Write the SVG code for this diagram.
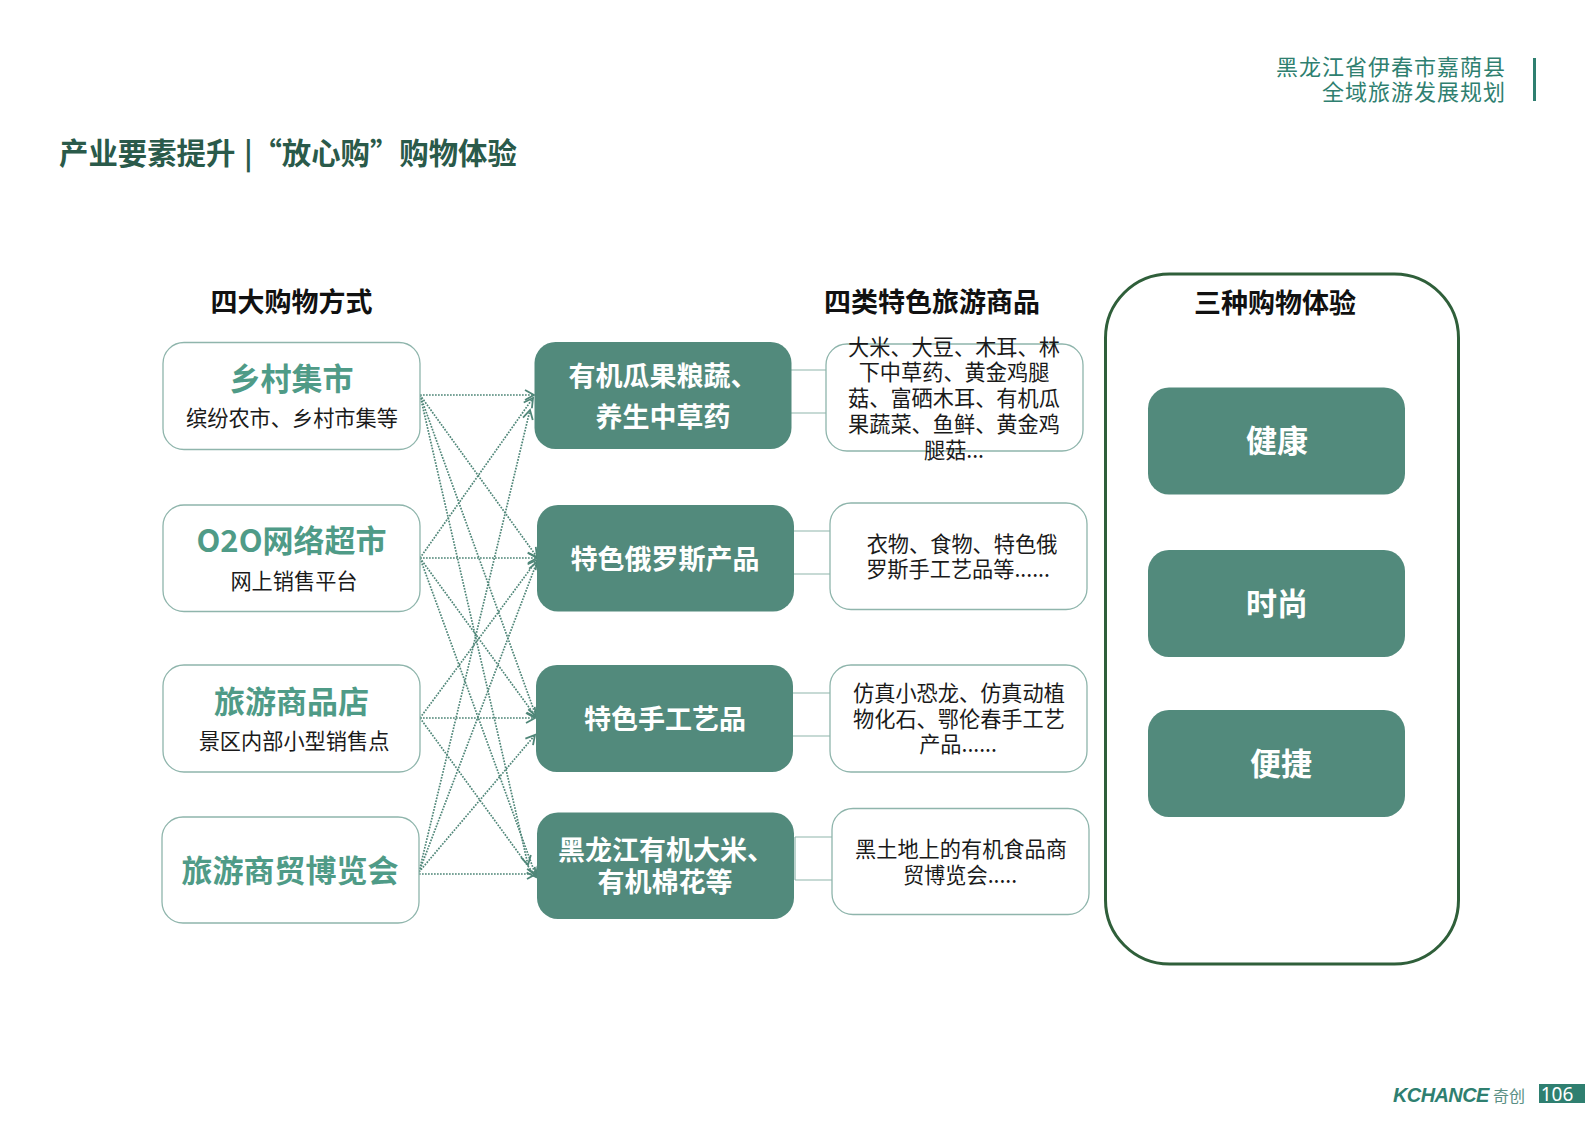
<svg xmlns="http://www.w3.org/2000/svg" width="1587" height="1122" viewBox="0 0 1587 1122">
<style>
text{font-family:"Noto Sans CJK SC","Noto Sans",sans-serif;text-anchor:middle}
.w{fill:#fff;stroke:#8fb5ac;stroke-width:1.3}
.g{fill:#528a7c}
.h{font-size:27px;font-weight:700;fill:#111}
.t{font-weight:700;fill:#4f9b87}
.s{font-size:21.2px;fill:#1a1a1a}
.m{font-size:27px;font-weight:700;fill:#fff}
.e{font-size:31px;font-weight:700;fill:#fff}
.c line{stroke:#4f8678;stroke-width:1.7;stroke-dasharray:1.7 1.3;marker-end:url(#a)}
.b path{fill:none;stroke:#8fb5ac;stroke-width:1.2}
</style>
<defs><marker id="a" markerUnits="userSpaceOnUse" markerWidth="14" markerHeight="14" refX="10" refY="6" orient="auto"><path d="M1 1 L10 6 L1 11" fill="none" stroke="#4f8678" stroke-width="1.8"/></marker></defs>
<rect width="1587" height="1122" fill="#fff"/>
<g id="header">
<text x="1506" y="75" style="font-size:22px;fill:#2f7f70;text-anchor:end;letter-spacing:1px">黑龙江省伊春市嘉荫县</text>
<text x="1506" y="100" style="font-size:22px;fill:#2f7f70;text-anchor:end;letter-spacing:1px">全域旅游发展规划</text>
<rect x="1533" y="58" width="3" height="43" fill="#2f7f70"/>
<text x="59" y="164" style="font-size:29.4px;font-weight:700;fill:#2a5a4a;text-anchor:start">产业要素提升 <tspan dx="2">|</tspan> <tspan dx="-7">“放心购”购物体验</tspan></text>
</g>
<g id="col-heads">
<text class="h" x="291.500" y="312">四大购物方式</text>
<text class="h" x="932" y="312">四类特色旅游商品</text>
</g>
<g id="experience-panel">
<rect x="1105.500" y="274" width="353" height="690" rx="64" fill="#fff" stroke="#2f5f3a" stroke-width="3"/>
<text class="h" x="1275" y="313">三种购物体验</text>
</g>
<g class="c" id="connectors">
<line x1="420" y1="395" x2="534" y2="395"/><line x1="420" y1="395" x2="537" y2="557"/><line x1="420" y1="395" x2="536" y2="716"/><line x1="420" y1="395" x2="528" y2="865"/>
<line x1="420" y1="558" x2="533" y2="398"/><line x1="420" y1="558" x2="537" y2="558"/><line x1="420" y1="558" x2="536" y2="717"/><line x1="420" y1="558" x2="536" y2="876"/>
<line x1="420" y1="718" x2="537" y2="560"/><line x1="420" y1="718" x2="535" y2="718"/><line x1="420" y1="718" x2="536" y2="877"/>
<line x1="419" y1="872" x2="530" y2="410"/><line x1="419" y1="872" x2="537" y2="562"/><line x1="419" y1="872" x2="535" y2="735"/><line x1="419" y1="874" x2="536" y2="874"/>
</g>
<g class="b" id="brackets">
<path d="M791 370H826M791 413H826"/><path d="M794 531H830M794 574H830"/><path d="M793 693H830M793 736H830"/><path d="M795 837H832M795 880H832M795 837V880"/>
</g>
<g id="s1"><rect class="w" x="163" y="342.500" width="257" height="107" rx="21"/><text class="t" x="291.500" y="390" font-size="31">乡村集市</text><text class="s" x="292" y="426">缤纷农市、乡村市集等</text></g>
<g id="s2"><rect class="w" x="163" y="505" width="257" height="106.500" rx="21"/><text class="t" x="291.500" y="552" font-size="31">O2O网络超市</text><text class="s" x="294" y="589">网上销售平台</text></g>
<g id="s3"><rect class="w" x="163" y="665" width="257" height="107" rx="21"/><text class="t" x="291.500" y="713" font-size="31">旅游商品店</text><text class="s" x="294" y="749">景区内部小型销售点</text></g>
<g id="s4"><rect class="w" x="162" y="817" width="257" height="106" rx="21"/><text class="t" x="290" y="882" font-size="31">旅游商贸博览会</text></g>
<g id="m1"><rect class="g" x="534.500" y="342" width="257" height="107" rx="21"/><text class="m" x="663" y="386">有机瓜果粮蔬、</text><text class="m" x="663" y="427">养生中草药</text></g>
<g id="m2"><rect class="g" x="537" y="505" width="257" height="106.500" rx="21"/><text class="m" x="665" y="569">特色俄罗斯产品</text></g>
<g id="m3"><rect class="g" x="536" y="665" width="257" height="107" rx="21"/><text class="m" x="665" y="729">特色手工艺品</text></g>
<g id="m4"><rect class="g" x="537" y="812.500" width="257" height="106.500" rx="21"/><text class="m" x="666" y="860">黑龙江有机大米、</text><text class="m" x="665" y="892">有机棉花等</text></g>
<g id="r1"><rect class="w" x="826" y="344" width="257" height="107" rx="21"/>
<text class="s" x="954" y="355">大米、大豆、木耳、林</text><text class="s" x="954" y="380">下中草药、黄金鸡腿</text><text class="s" x="954" y="406">菇、富硒木耳、有机瓜</text><text class="s" x="954" y="432">果蔬菜、鱼鲜、黄金鸡</text><text class="s" x="954" y="458">腿菇...</text></g>
<g id="r2"><rect class="w" x="830" y="503" width="257" height="106.500" rx="21"/><text class="s" x="962" y="552">衣物、食物、特色俄</text><text class="s" x="958" y="577">罗斯手工艺品等......</text></g>
<g id="r3"><rect class="w" x="830" y="665" width="257" height="107" rx="21"/><text class="s" x="959" y="701">仿真小恐龙、仿真动植</text><text class="s" x="959" y="727">物化石、鄂伦春手工艺</text><text class="s" x="958" y="752">产品......</text></g>
<g id="r4"><rect class="w" x="832" y="808.500" width="257" height="106" rx="21"/><text class="s" x="961" y="857">黑土地上的有机食品商</text><text class="s" x="960" y="883">贸博览会.....</text></g>
<g id="e1"><rect class="g" x="1148" y="387.500" width="257" height="107" rx="21"/><text class="e" x="1277" y="452">健康</text></g>
<g id="e2"><rect class="g" x="1148" y="550" width="257" height="107" rx="21"/><text class="e" x="1277" y="615">时尚</text></g>
<g id="e3"><rect class="g" x="1148" y="710" width="257" height="107" rx="21"/><text class="e" x="1281" y="775">便捷</text></g>
<g id="footer">
<text x="1393" y="1102" style="font-family:'Liberation Sans',sans-serif;font-size:20px;font-weight:700;font-style:italic;fill:#2f7f70;text-anchor:start;letter-spacing:-.6px">KCHANCE</text>
<text x="1493" y="1102" style="font-size:16px;fill:#5a8f84;text-anchor:start">奇创</text>
<rect x="1539" y="1084" width="46" height="19" fill="#2f7f70"/>
<text x="1557" y="1100.500" style="font-family:'Noto Sans',sans-serif;font-size:19px;fill:#fff">106</text>
</g>
</svg>
